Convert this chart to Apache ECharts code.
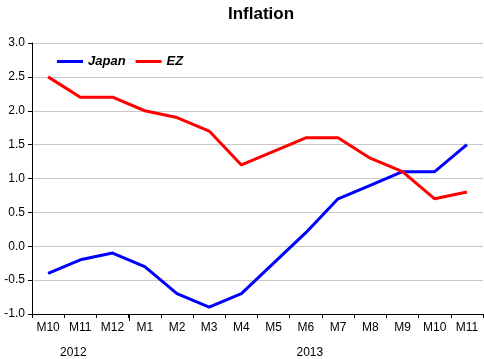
<!DOCTYPE html>
<html><head><meta charset="utf-8">
<script src="https://cdn.jsdelivr.net/npm/echarts@6/dist/echarts.min.js"></script>
<style>html,body{margin:0;padding:0;background:#fff}#c{width:484px;height:359px}</style>
</head><body><div id="c"></div>
<script>
const categories = ['M10','M11','M12','M1','M2','M3','M4','M5','M6','M7','M8','M9','M10','M11'];
const japan = [-0.4,-0.2,-0.1,-0.3,-0.7,-0.9,-0.7,-0.25,0.2,0.7,0.9,1.1,1.1,1.5];
const ez = [2.5,2.2,2.2,2.0,1.9,1.7,1.2,1.4,1.6,1.6,1.3,1.1,0.7,0.8];
const yearLabels = ['2012','2013'];
const yearFrom = [0, 3];
const yearTo = [2, 13];
const F = 'Liberation Sans, Arial, sans-serif';
const chart = echarts.init(document.getElementById('c'), null, {renderer:'canvas'});
chart.setOption({
  animation:false,
  backgroundColor:'#fff',
  title:{text:'Inflation', left:256, top:1, textAlign:'center',
    textStyle:{fontFamily:F, fontWeight:'bold', fontSize:17, color:'#000'}},
  legend:{left:52, top:50, itemWidth:26, itemHeight:3, itemGap:10, icon:'rect',
    textStyle:{fontFamily:F, fontStyle:'italic', fontWeight:'bold', fontSize:13, color:'#000'},
    data:['Japan','EZ']},
  grid:{left:32, right:1, top:43, bottom:45},
  xAxis:{type:'category', data:categories, boundaryGap:true,
    axisLine:{onZero:false, lineStyle:{color:'#000', width:1}},
    axisTick:{show:true, length:4, lineStyle:{color:'#000'}},
    axisLabel:{fontFamily:F, fontSize:12, color:'#000', margin:8, interval:0}},
  yAxis:{type:'value', min:-1, max:3, interval:0.5,
    axisLine:{show:true, onZero:false, lineStyle:{color:'#000'}},
    axisTick:{show:true, length:4, lineStyle:{color:'#000'}},
    axisLabel:{fontFamily:F, fontSize:12, color:'#000', margin:7, formatter:v=>v.toFixed(1)},
    splitLine:{lineStyle:{color:'#c8c8c8', width:1}}},
  series:[
    {name:'Japan', type:'line', data:japan, showSymbol:false, symbol:'none', itemStyle:{color:'#0000ff'}, lineStyle:{color:'#0000ff', width:3}},
    {name:'EZ', type:'line', data:ez, showSymbol:false, symbol:'none', itemStyle:{color:'#ff0000'}, lineStyle:{color:'#ff0000', width:3}}
  ]
});
const yearShift = [-7, 4];
const g = [];
const y0 = chart.convertToPixel({yAxisIndex:0}, -1);
yearLabels.forEach((lab, i) => {
  const a = chart.convertToPixel({xAxisIndex:0}, yearFrom[i]);
  const b = chart.convertToPixel({xAxisIndex:0}, yearTo[i]);
  g.push({type:'text', x:(a+b)/2 + yearShift[i], y:y0 + 33,
    style:{text:lab, fontFamily:F, fontSize:12, fill:'#000', align:'center', verticalAlign:'top'}});
});
const step = chart.convertToPixel({xAxisIndex:0}, 1) - chart.convertToPixel({xAxisIndex:0}, 0);
const bx = Math.round(chart.convertToPixel({xAxisIndex:0}, 3) - step/2) + 0.5;
g.push({type:'line', shape:{x1:bx, y1:y0, x2:bx, y2:y0+7}, style:{stroke:'#000', lineWidth:1}});
chart.setOption({graphic:g});
</script></body></html>
